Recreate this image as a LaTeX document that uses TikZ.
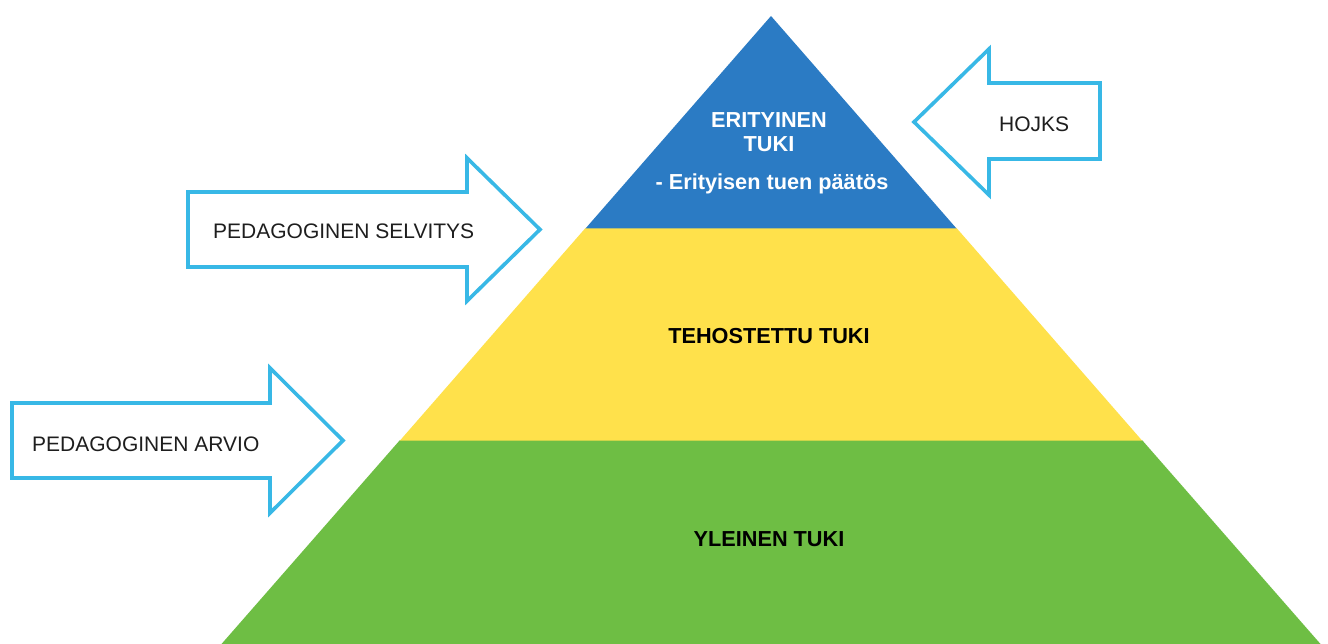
\documentclass[tikz,border=0pt]{standalone}
\usepackage{fontspec}
\setmainfont{Liberation Sans}
\definecolor{pyrblue}{RGB}{43,123,196}
\definecolor{pyryellow}{RGB}{255,225,75}
\definecolor{pyrgreen}{RGB}{110,190,68}
\definecolor{arrowblue}{RGB}{56,184,230}
\definecolor{txtdark}{RGB}{30,30,30}
\begin{document}
\begin{tikzpicture}[x=1pt,y=-1pt,
  level/.style={draw=none},
  outarrow/.style={draw=arrowblue,line width=3.6pt,line join=miter,fill=white},
  arrowlabel/.style={anchor=base west,inner sep=0pt,text=txtdark,font=\fontsize{21}{24}\selectfont},
  levellabel/.style={anchor=base,inner sep=0pt,font=\bfseries\fontsize{21.7}{24}\selectfont}]
\useasboundingbox (0,0) rectangle (1328,644);
\fill[white] (0,0) rectangle (1328,644);
% pyramid levels
\fill[pyrgreen] (400,440) -- (1142,440) -- (1320.5,644) -- (221.5,644) -- cycle;
\fill[pyryellow] (585.5,228) -- (956.5,228) -- (1142,440.5) -- (400,440.5) -- cycle;
\fill[pyrblue] (771,16) -- (956.5,228.5) -- (585.5,228.5) -- cycle;
% level labels
\node[levellabel,text=white] (eri1) at (769,128) {ERITYINEN};
\node[levellabel,text=white] (eri2) at (769,152) {TUKI};
\node[levellabel,text=white] (eri3) at (772,190) {- Erityisen tuen päätös};
\node[levellabel,text=black] (teh) at (769,344) {TEHOSTETTU TUKI};
\node[levellabel,text=black] (yle) at (769,546) {YLEINEN TUKI};
% arrows
\draw[outarrow] (188,192) -- (467,192) -- (467,158) -- (540,229.5) -- (467,301) -- (467,267) -- (188,267) -- cycle;
\draw[outarrow] (12,403) -- (270,403) -- (270,368) -- (343,440.5) -- (270,513) -- (270,478) -- (12,478) -- cycle;
\draw[outarrow] (1100,83) -- (989,83) -- (989,49) -- (914,122) -- (989,195) -- (989,159) -- (1100,159) -- cycle;
% arrow labels
\node[arrowlabel] (selv) at (213,239) {PEDAGOGINEN SELVITYS};
\node[arrowlabel] (arvio) at (32,451) {PEDAGOGINEN ARVIO};
\node[arrowlabel] (hojks) at (999,132) {HOJKS};
\end{tikzpicture}
\end{document}
